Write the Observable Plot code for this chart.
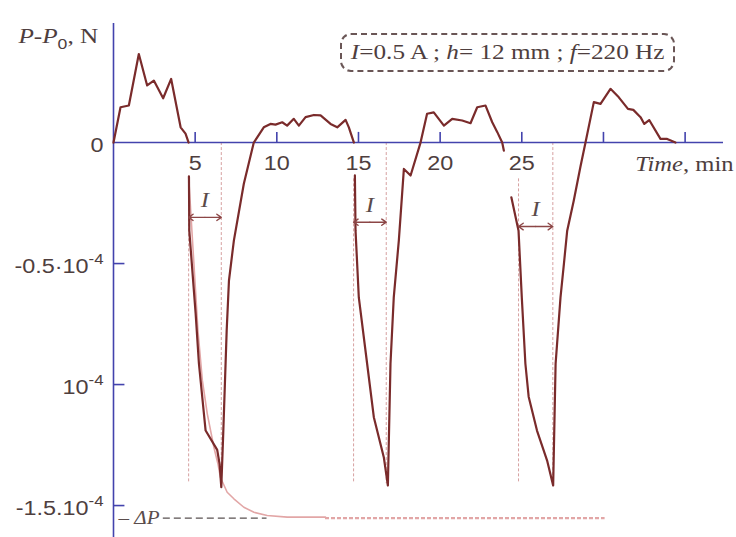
<!DOCTYPE html>
<html>
<head>
<meta charset="utf-8">
<script src="https://cdn.jsdelivr.net/npm/d3@7"></script>
<script src="https://cdn.jsdelivr.net/npm/@observablehq/plot@0.6"></script>
<style>
  html, body { margin: 0; padding: 0; background: #fff; }
  #wrap { position: relative; width: 736px; height: 537px; overflow: hidden; }
  #legend {
    position: absolute; left: 340px; top: 33px; width: 331px; height: 35px;
    border: 2px dashed #6a5656; border-radius: 11px; z-index: 2;
    display: flex; align-items: center; justify-content: center;
    font-family: "Liberation Serif", "Times New Roman", serif; font-size: 21px; color: #4e3e3e;
  }
  #legend span { display: inline-block; transform: scaleX(1.2); white-space: pre; }
</style>
</head>
<body>
<div id="wrap">
  <div id="legend"><span><i>I</i>=0.5 A ; <i>h</i>= 12 mm ; <i>f</i>=220 Hz</span></div>
</div>
<script>
// ---- data (force in units of 1e-4 N, time in minutes; null = gap in the trace) ----
const time = [
  0, 0.43, 0.94, 1.55, 2.06, 2.47, 3.04, 3.53, 4.11, 4.41, 4.6, 4.6,
  4.62, 4.64, 5.03, 5.23, 5.64, 6.35, 6.5, 6.6, 6.72, 6.93, 7.07, 7.37, 7.98, 8.59, 9.2, 9.61, 9.92,
  10.33, 10.63, 11.04, 11.35, 11.76, 12.27, 12.68, 13.29, 13.7, 14.21, 14.41, 14.72, 14.72,
  14.78, 14.82, 15.02, 15.53, 15.94, 16.55, 16.8, 16.96, 17.16, 17.47, 17.78, 18.19, 18.8, 19.2, 19.61,
  20.23, 20.74, 21.35, 21.86, 22.27, 22.78, 23.19, 23.5, 23.8, 23.9, 23.9,
  24.36, 24.8, 25.0, 25.22, 25.42, 25.93, 26.55, 26.92, 27.07, 27.37, 27.58, 27.78, 28.18, 28.59, 28.9,
  29.41, 29.82, 30.43, 30.94, 31.5, 31.83, 32.27, 32.5, 32.8, 33.49, 33.9, 34.41
];
const force = [
  0, 0.146, 0.153, 0.366, 0.236, 0.256, 0.183, 0.263, 0.063, 0.037, 0, null,
  -0.14, -0.364, -0.707, -0.913, -1.19, -1.27, -1.33, -1.424, -1.2, -0.777, -0.57, -0.405, -0.17, 0, 0.063, 0.077, 0.074,
  0.084, 0.07, 0.098, 0.07, 0.105, 0.114, 0.112, 0.077, 0.063, 0.094, 0.063, 0, null,
  -0.136, -0.364, -0.64, -0.914, -1.135, -1.30, -1.417, -0.914, -0.64, -0.405, -0.109, -0.136, 0, 0.119, 0.125,
  0.07, 0.098, 0.091, 0.08, 0.146, 0.153, 0.084, 0.043, 0, -0.033, null,
  -0.226, -0.364, -0.64, -0.914, -1.05, -1.19, -1.314, -1.417, -0.914, -0.64, -0.5, -0.364, -0.24, -0.1, 0,
  0.167, 0.16, 0.222, 0.187, 0.139, 0.135, 0.105, 0.077, 0.093, 0.015, 0.015, 0
];
// fitted relaxation curve (thin pink)
const fitTime  = [4.6, 5.17, 5.44, 5.74, 6.15, 6.39, 6.55, 6.96, 7.37, 7.98, 8.6, 9.41, 10.64, 12.98];
const fitForce = [-0.14, -0.777, -0.983, -1.12, -1.26, -1.326, -1.384, -1.445, -1.472, -1.507, -1.528, -1.541, -1.548, -1.548];
const plateauStart = 12.98, plateauEnd = 30.1;
const deltaP = -1.552;
const deltaPLineStart = 3.05, deltaPLineEnd = 9.4;
// current switched on / off (I intervals)
const currentOn  = [4.6, 14.7, 24.8];
const currentOff = [6.6, 16.7, 26.9];
const arrowLevel = [-0.309, -0.329, -0.347];
const onLineTop = -0.15, lineBottom = -1.41;
// axes
const xDomain = [0, 37.35];
const yDomain = [-1.632, 0.492];
const xTickValues = [5, 10, 15, 20, 25, 30, 35];
const xLabelValues = [5, 10, 15, 20, 25];
const yTickValues = [-0.5, -1, -1.5];
const yLabelValues = [0, -0.5, -1, -1.5];
const yLabelTexts = ["0", "-0.5·10^{-4}", "10^{-4}", "-1.5.10^{-4}"];
const yTitle = "*P-P*_{0}, N";
const xTitle = "*Time*, min";
const intervalLabel = "I";

// ---- build ----
const trace = time.map((t, i) => ({t, f: force[i]}));
const fit = fitTime.map((t, i) => ({t, f: fitForce[i]}));
const intervals = currentOn.map((on, i) => ({on, off: currentOff[i], mid: (on + currentOff[i]) / 2, y: arrowLevel[i]}));

const axisColor = "#4343ad";
const textColor = "#4e3e3e";
const curveColor = "#7a2b2b";
const pink = "#e2a6a6";
const sans = "Liberation Sans, Arial, sans-serif";
const serif = "Liberation Serif, Times New Roman, serif";

const plot = Plot.plot({
  width: 736, height: 537,
  marginLeft: 113, marginRight: 13, marginTop: 23, marginBottom: 0,
  x: {domain: xDomain, axis: null},
  y: {domain: yDomain, axis: null},
  style: {background: "white", fontFamily: sans, overflow: "visible"},
  marks: [
    // current on/off guide lines
    Plot.ruleX(currentOn, {x: d => d, y1: onLineTop, y2: lineBottom, stroke: "#d6a0a0", strokeWidth: 1, strokeDasharray: "3,2"}),
    Plot.ruleX(currentOff, {x: d => d, y1: 0, y2: lineBottom, stroke: "#d6a0a0", strokeWidth: 1, strokeDasharray: "3,2"}),
    // fitted curve and plateau
    Plot.line(fit, {x: "t", y: "f", stroke: pink, strokeWidth: 1.6}),
    Plot.ruleY([deltaP], {x1: plateauStart, x2: plateauEnd, stroke: pink, strokeWidth: 2.2, strokeDasharray: "4,2"}),
    // delta P marker
    Plot.ruleY([deltaP], {x1: deltaPLineStart, x2: deltaPLineEnd, stroke: "#5a5252", strokeWidth: 1.4, strokeDasharray: "7,4"}),
    Plot.text(["– *ΔP*"], {x: 0, y: deltaP, dx: 5, textAnchor: "start", fontFamily: serif, fontSize: 18, fill: "#5a4c4c"}),
    // axes
    Plot.ruleY([0], {stroke: axisColor, strokeWidth: 1.6}),
    Plot.ruleX([0], {stroke: axisColor, strokeWidth: 1.6}),
    Plot.ruleX(xTickValues, {x: d => d, y1: 0, y2: 0.042, stroke: axisColor, strokeWidth: 1.6}),
    Plot.ruleY(yTickValues, {y: d => d, x1: 0, x2: 0.7, stroke: axisColor, strokeWidth: 1.6}),
    // measured trace
    Plot.line(trace, {x: "t", y: "f", stroke: curveColor, strokeWidth: 2.2, strokeLinejoin: "round"}),
    // I arrows (double headed)
    Plot.arrow(intervals, {x1: "mid", x2: "on", y1: "y", y2: "y", stroke: "#8c4646", strokeWidth: 1.4, headLength: 9, headAngle: 70}),
    Plot.arrow(intervals, {x1: "mid", x2: "off", y1: "y", y2: "y", stroke: "#8c4646", strokeWidth: 1.4, headLength: 9, headAngle: 70}),
    Plot.text(intervals, {x: "mid", y: "y", dy: -17, text: () => "*" + intervalLabel + "*", fontFamily: serif, fontSize: 21, fill: "#5a4a4a"}),
    // tick labels
    Plot.text(xLabelValues, {x: d => d, y: 0, dy: 21, text: d => String(d), fontSize: 20, fill: textColor}),
    Plot.text(yLabelValues, {x: 0, y: d => d, text: (d, i) => yLabelTexts[i], textAnchor: "end", dx: -10, dy: 3, fontSize: 20, fill: textColor}),
    // titles
    Plot.text([yTitle], {frameAnchor: "top-left", dx: -95, dy: 4, textAnchor: "start", fontFamily: serif, fontSize: 21.5, fill: textColor}),
    Plot.text([xTitle], {y: 0, frameAnchor: "right", textAnchor: "end", dx: 10, dy: 22, fontFamily: serif, fontSize: 21, fill: textColor})
  ]
});

const wrap = document.getElementById("wrap");
plot.style.position = "absolute";
plot.style.left = "0";
plot.style.top = "0";
wrap.insertBefore(plot, wrap.firstChild);

// rich text: *italic*, _{sub}, ^{sup}
d3.select(plot).selectAll("text").each(function () {
  const el = d3.select(this);
  const s = el.text();
  if (!/\*|_\{|\^\{/.test(s)) return;
  const base = parseFloat(getComputedStyle(this).fontSize) || 20;
  el.text(null);
  const re = /\*([^*]+)\*|_\{([^}]*)\}|\^\{([^}]*)\}|([^*_^]+)/g;
  let m, shift = 0;
  while ((m = re.exec(s))) {
    const t = el.append("tspan");
    let target = 0;
    if (m[1] !== undefined) t.text(m[1]).attr("font-style", "italic");
    else if (m[2] !== undefined) { t.text(m[2]).attr("font-size", (base * 0.7) + "px").attr("font-family", sans); target = base * 0.28; }
    else if (m[3] !== undefined) { t.text(m[3]).attr("font-size", (base * 0.72) + "px"); target = -base * 0.45; }
    else t.text(m[4]);
    if (target !== shift) { t.attr("dy", target - shift); shift = target; }
  }
});
// the source figure is stretched horizontally; widen the glyphs to match
d3.select(plot).selectAll("text").each(function () {
  const L = this.getComputedTextLength();
  if (L > 0) {
    this.setAttribute("textLength", (L * 1.17).toFixed(1));
    this.setAttribute("lengthAdjust", "spacingAndGlyphs");
  }
});
</script>
</body>
</html>
